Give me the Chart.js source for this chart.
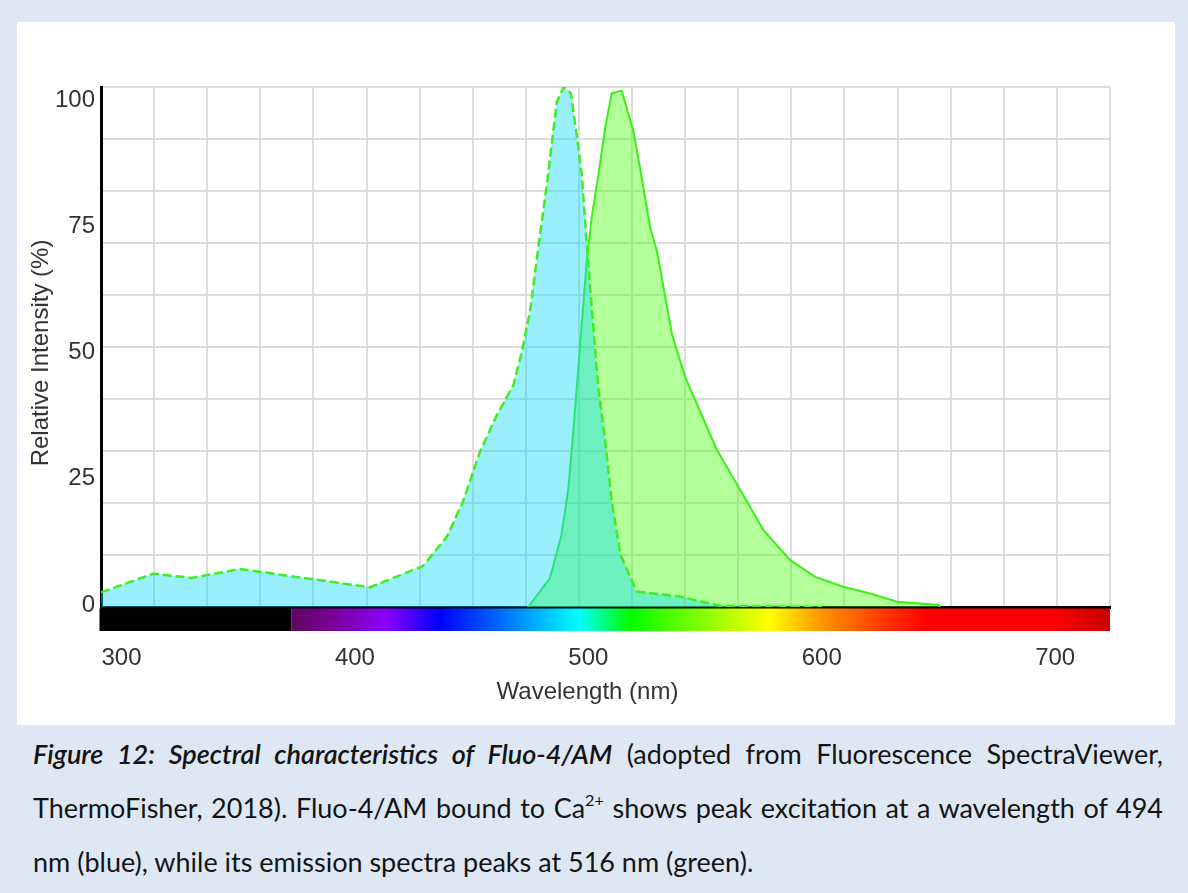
<!DOCTYPE html>
<html>
<head>
<meta charset="utf-8">
<script src="https://cdn.jsdelivr.net/npm/chart.js@4.4.1/dist/chart.umd.min.js"></script>
<style>
  html, body { margin: 0; padding: 0; }
  body { width: 1188px; height: 893px; background: #dde8f4; position: relative; overflow: hidden; }
  #panel { position: absolute; left: 17px; top: 22px; width: 1158px; height: 703px; background: #ffffff; }
  #caption { position: absolute; left: 33px; top: 727px; width: 1130px; font-family: Lato, "Open Sans", sans-serif; font-size: 27px; color: #141414; }
  #caption .ln { height: 54px; line-height: 54px; white-space: nowrap; }
  #caption .j { text-align: justify; text-align-last: justify; white-space: normal; }
  #caption i { font-weight: 600; font-style: italic; }
  #caption sup { font-size: 60%; line-height: 0; vertical-align: 0.75em; }
</style>
</head>
<body>
<div id="panel"><canvas id="c" width="1158" height="703"></canvas></div>
<div id="caption">
  <div class="ln j"><i>Figure 12: Spectral characteristics of Fluo-4/AM</i> (adopted from Fluorescence SpectraViewer,</div>
  <div class="ln j">ThermoFisher, 2018). Fluo-4/AM bound to Ca<sup>2+</sup> shows peak excitation at a wavelength of 494</div>
  <div class="ln">nm (blue), while its emission spectra peaks at 516 nm (green).</div>
</div>
<script>
// ---- data (wavelength in nm, relative intensity in %) ----
const excitationWavelength = [291.2, 313.6, 330.1, 350.8, 406.5, 429.2, 439.4, 446.3, 453.6, 460.8, 467.9, 471.5, 475.0, 479.3, 482.2, 486.5, 489.5, 492.5, 495.0, 497.2, 499.3, 502.1, 504.3, 507.2, 510.0, 513.8, 520.7, 539.3, 556.5, 600.0];
const excitationIntensity  = [2.8, 6.4, 5.6, 7.3, 3.8, 7.9, 13.5, 20.3, 29.9, 36.9, 42.7, 49.1, 56.8, 71.6, 81.2, 97.2, 100, 98.8, 90.8, 83.1, 70.0, 54.0, 42.0, 32.0, 20.3, 10.0, 3.0, 2.0, 0.2, 0];
const emissionWavelength = [474.2, 483.5, 488.5, 491.5, 494.0, 496.5, 499.3, 501.4, 504.3, 507.2, 510.0, 514.3, 519.3, 522.9, 526.5, 529.4, 535.8, 541.5, 555.1, 565.1, 575.0, 586.5, 597.2, 609.2, 620.8, 632.2, 650.0, 650.7];
const emissionIntensity  = [0, 5.5, 13.9, 23.0, 36.3, 50.5, 66.5, 74.8, 83.1, 92.1, 98.8, 99.3, 91.5, 82.5, 72.9, 68.4, 52.5, 44.2, 30.2, 22.5, 14.8, 9.0, 5.8, 3.9, 2.6, 1.0, 0.4, 0];
const xTickLabels = [300, 400, 500, 600, 700];
const yTickLabels = [0, 25, 50, 75, 100];
// visible spectrum colour stops (nm, colour) for the strip under the axis
const spectrumStopNm    = [372.7, 390, 413.6, 436.3, 462, 476, 496.1, 517.6, 547.6, 577.6, 599, 627.8, 645, 697.7, 723.5];
const spectrumStopColor = ['#5e0660', '#7a0096', '#8a00ff', '#0000ff', '#0068ff', '#00a8ff', '#00ffff', '#00ff00', '#80ff00', '#ffff00', '#ff9900', '#ff3300', '#ff0000', '#ff0000', '#c80000'];

function pts(xs, ys) { return xs.map((x, i) => ({ x: x, y: ys[i] })); }

const FONT = "Arial, 'Liberation Sans', Helvetica, sans-serif";

const spectrumBar = {
  id: 'spectrumBar',
  afterDraw(chart) {
    const ctx = chart.ctx, area = chart.chartArea, xs = chart.scales.x;
    const top = area.bottom + 1.5, h = 22.5;
    const xStart = xs.getPixelForValue(spectrumStopNm[0]);
    ctx.save();
    ctx.fillStyle = '#000000';
    ctx.fillRect(area.left - 1.5, top, xStart - area.left + 1.5, h);
    const g = ctx.createLinearGradient(xStart, 0, area.right, 0);
    const span = area.right - xStart;
    spectrumStopNm.forEach((nm, i) => {
      const p = Math.min(1, Math.max(0, (xs.getPixelForValue(nm) - xStart) / span));
      g.addColorStop(p, spectrumStopColor[i]);
    });
    ctx.fillStyle = g;
    ctx.fillRect(xStart, top, area.right - xStart, h);
    ctx.restore();
  }
};

new Chart(document.getElementById('c'), {
  type: 'line',
  data: {
    datasets: [
      {
        label: 'Excitation',
        data: pts(excitationWavelength, excitationIntensity),
        borderColor: '#3def22',
        borderWidth: 2.5,
        borderDash: [9, 4],
        backgroundColor: 'rgba(10,216,248,0.41)',
        fill: 'origin',
        pointRadius: 0,
        tension: 0
      },
      {
        label: 'Emission',
        data: pts(emissionWavelength, emissionIntensity),
        borderColor: '#3def1a',
        borderWidth: 2,
        backgroundColor: 'rgba(65,255,0,0.40)',
        fill: 'origin',
        pointRadius: 0,
        tension: 0
      }
    ]
  },
  options: {
    responsive: false,
    animation: false,
    layout: { padding: { top: 65, right: 65, left: 0, bottom: 0 } },
    plugins: { legend: { display: false }, tooltip: { enabled: false } },
    scales: {
      x: {
        type: 'linear', position: 'bottom', min: 291.2, max: 723.5,
        afterBuildTicks(s) { s.ticks = xTickLabels.map(v => ({ value: v })); },
        afterFit(s) { s.height = 118; },
        grid: { display: false, drawTicks: false },
        border: { display: true, color: '#000000', width: 3 },
        ticks: { color: '#333333', font: { family: FONT, size: 24 }, padding: 37, maxRotation: 0 },
        title: { display: true, text: 'Wavelength (nm)\u2002\u2002\u2002', color: '#333333', font: { family: FONT, size: 24 }, padding: { top: 4, bottom: 18 } }
      },
      xg: {
        type: 'linear', position: 'bottom', min: 0, max: 19,
        afterFit(s) { s.height = 0; },
        ticks: { display: false, stepSize: 1 },
        grid: { color: '#dcdcdc', lineWidth: 2, drawTicks: false },
        border: { display: false }
      },
      y: {
        type: 'linear', position: 'left', min: 0, max: 100,
        afterFit(s) { s.width = 0; },
        ticks: { display: false, stepSize: 10 },
        grid: { color: '#dcdcdc', lineWidth: 2, drawTicks: false },
        border: { display: true, color: '#000000', width: 3 }
      },
      yl: {
        type: 'linear', position: 'left', min: -0.396, max: 102.574,
        afterBuildTicks(s) { s.ticks = yTickLabels.map(v => ({ value: v })); },
        afterFit(s) { s.width = 84; },
        grid: { display: false, drawTicks: false },
        border: { display: false },
        ticks: { color: '#333333', font: { family: FONT, size: 24 }, padding: 6 },
        title: { display: true, text: 'Relative Intensity (%)\u2002', color: '#333333', font: { family: FONT, size: 24 }, padding: { top: 10, bottom: 4 } }
      }
    }
  },
  plugins: [spectrumBar]
});
</script>
</body>
</html>
